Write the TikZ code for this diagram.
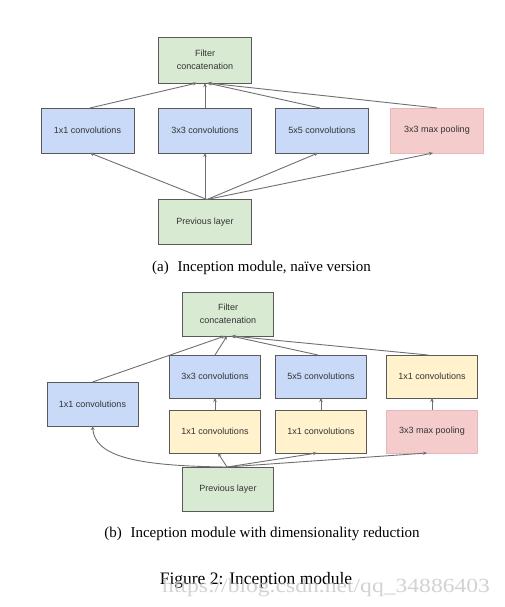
\documentclass[tikz,border=0pt]{standalone}
\usepackage{fontspec}
\setmainfont{Liberation Serif}
\newfontfamily\boxfont{Liberation Sans}
\usetikzlibrary{arrows.meta,calc}
\definecolor{bluefill}{HTML}{C9DAF8}
\definecolor{yellowfill}{HTML}{FFF2CC}
\definecolor{greenfill}{HTML}{D9EAD3}
\definecolor{pinkfill}{HTML}{F4CCCC}
\definecolor{pinkborder}{HTML}{E6B8B8}
\definecolor{bordergray}{HTML}{595959}
\definecolor{arrowgray}{HTML}{707070}
\definecolor{textgray}{HTML}{333333}
\tikzset{
  box/.style={draw=bordergray, line width=0.9pt, inner sep=0pt, outer sep=0pt,
    minimum height=45pt, align=center, text=textgray,
    font=\boxfont\fontsize{9}{12.5}\selectfont},
  wa/.style={box, minimum width=93pt},
  wb/.style={box, minimum width=91pt},
  blue/.style={fill=bluefill},
  yellow/.style={fill=yellowfill},
  green/.style={fill=greenfill},
  pink/.style={fill=pinkfill, draw=pinkborder},
  conn/.style={draw=arrowgray, line width=0.9pt, -{Stealth[length=4pt,width=3.5pt]}},
  caption/.style={inner sep=0pt, font=\fontsize{15}{18}\selectfont},
}
\begin{document}
\begin{tikzpicture}[x=1pt,y=-1pt]
\useasboundingbox[fill=white] (0,0) rectangle (504,607);

% (a) naive version
\node[wa,green,minimum height=46pt] (fa) at (205,60) {Filter\\concatenation};
\node[wa,blue] (c1a) at (87.5,130.5) {1x1 convolutions};
\node[wa,blue] (c3a) at (205,130.5) {3x3 convolutions};
\node[wa,blue] (c5a) at (322,130.5) {5x5 convolutions};
\node[wa,pink] (mpa) at (437,130.5) {3x3 max pooling};
\node[wa,green] (pa) at (205,222) {Previous layer};

\draw[conn] ([xshift=2.5pt]c1a.north) -- ([xshift=-8pt]fa.south);
\draw[conn] (c3a.north) -- (fa.south);
\draw[conn] ([xshift=-2pt]c5a.north) -- ([xshift=2pt]fa.south);
\draw[conn] (mpa.north) -- ([xshift=3pt]fa.south);

\draw[conn] ([xshift=2pt]pa.north) -- ([xshift=2.5pt]c1a.south);
\draw[conn] (pa.north) -- (c3a.south);
\draw[conn] ([xshift=2pt]pa.north) -- ([xshift=-4pt]c5a.south);
\draw[conn] ([xshift=2pt]pa.north) -- ([xshift=-4pt]mpa.south);

\node[caption] (capa) at (261.5,268) {(a)\hspace{5pt} Inception module, na\"{\i}ve version};

% (b) dimensionality reduction
\node[wb,green,minimum height=44pt] (fb) at (228,314) {Filter\\concatenation};
\node[wb,blue,minimum height=43pt] (u3) at (215,376.5) {3x3 convolutions};
\node[wb,blue,minimum height=43pt] (u5) at (321,376.5) {5x5 convolutions};
\node[wb,yellow,minimum height=43pt] (u1) at (432,376.5) {1x1 convolutions};
\node[wb,blue,minimum height=44pt] (l1) at (92.5,404) {1x1 convolutions};
\node[wb,yellow,minimum height=43pt] (d1a) at (215,431.5) {1x1 convolutions};
\node[wb,yellow,minimum height=43pt] (d1b) at (321,431.5) {1x1 convolutions};
\node[wb,pink,minimum height=43pt] (dmp) at (432,431.5) {3x3 max pooling};
\node[wb,green,minimum height=44pt] (pb) at (228,489) {Previous layer};

\draw[conn] (l1.north) -- ([xshift=-3pt]fb.south);
\draw[conn] (u3.north) -- ([xshift=-1pt]fb.south);
\draw[conn] ([xshift=-3pt]u5.north) -- ([xshift=3pt]fb.south);
\draw[conn] ([xshift=-4pt]u1.north) -- ([xshift=4pt]fb.south);

\draw[conn] (d1a.north) -- (u3.south);
\draw[conn] (d1b.north) -- (u5.south);
\draw[conn] (dmp.north) -- (u1.south);

\draw[conn] ([xshift=-1pt]pb.north) .. controls (130,466) and (95,455) .. (l1.south);
\draw[conn] ([xshift=-1pt]pb.north) -- ([xshift=3pt]d1a.south);
\draw[conn] ([xshift=-1pt]pb.north) -- ([xshift=-4pt]d1b.south);
\draw[conn] ([xshift=-1pt]pb.north) -- ([xshift=-5pt]dmp.south);

\node[caption] (capb) at (262,534) {(b)\hspace{5pt} Inception module with dimensionality reduction};

\node[inner sep=0pt, font=\fontsize{17.5}{20}\selectfont] (fig) at (256,580) {Figure 2: Inception module};
\node[inner sep=0pt, anchor=west, text=black!22, opacity=0.8, font=\fontsize{20}{22}\selectfont] (wm) at (162,588) {\scalebox{1.18}[1]{https://blog.csdn.net/qq\_34886403}};
\end{tikzpicture}
\end{document}
